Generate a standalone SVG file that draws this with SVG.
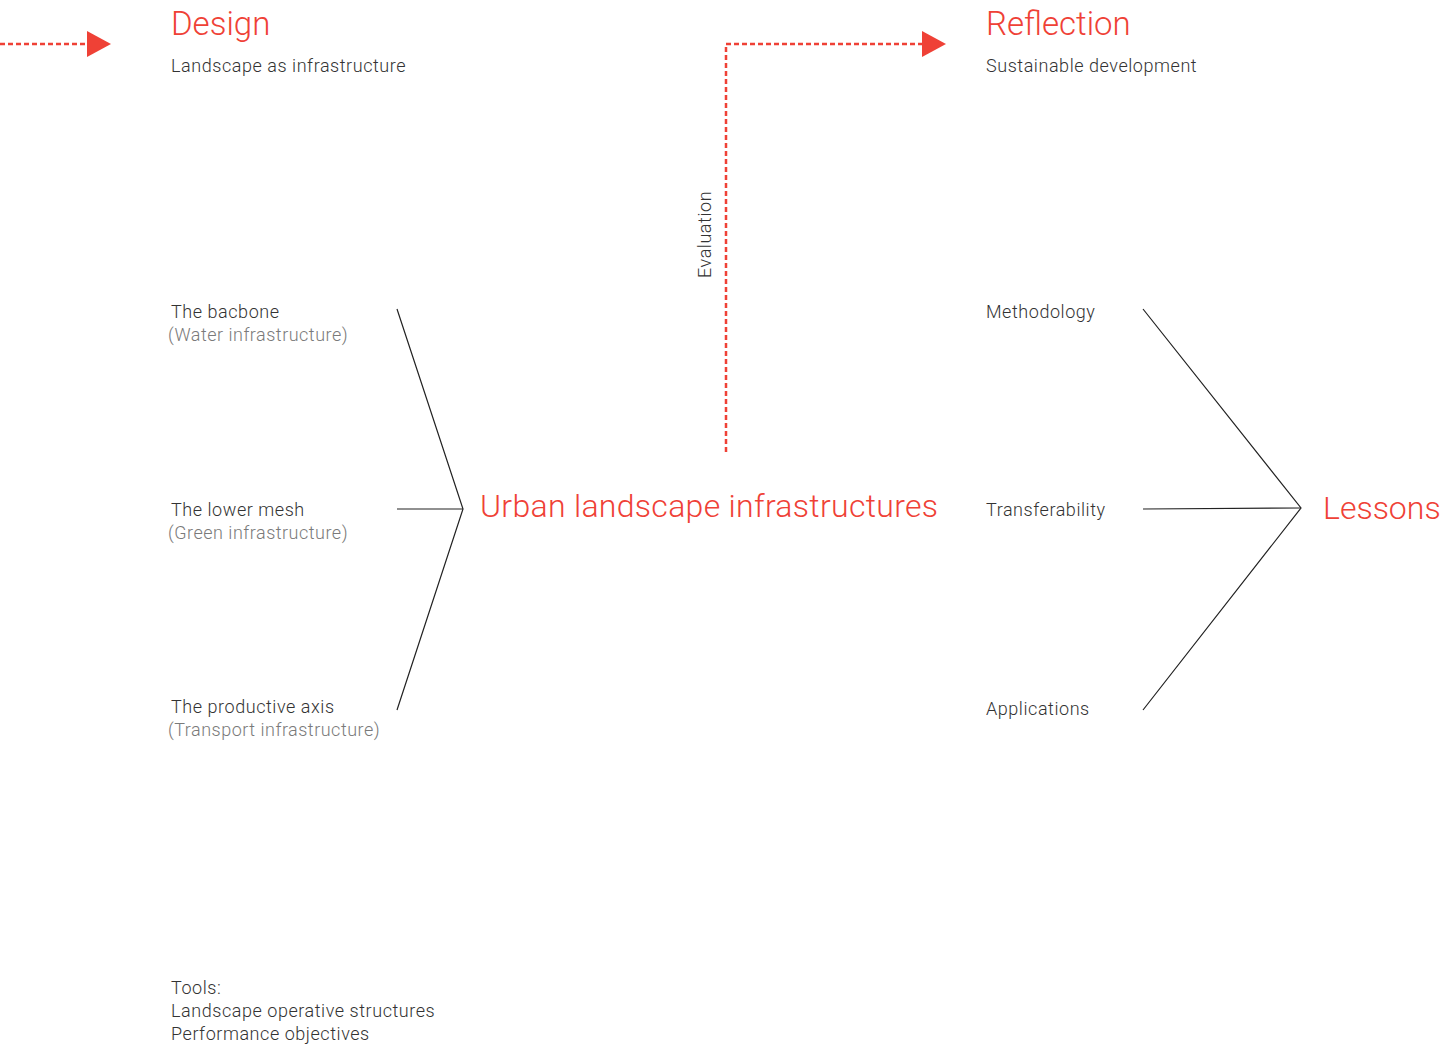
<svg xmlns="http://www.w3.org/2000/svg" width="1456" height="1046" viewBox="0 0 1456 1046">
  <style>
    text { font-family: Roboto, "Liberation Sans", sans-serif; font-weight: 300; }
    .head { fill: #ef4136; font-size: 33px; }
    .big { fill: #ef4136; font-size: 32px; letter-spacing: 0.3px; }
    .lbl { fill: #333333; font-size: 18px; letter-spacing: 0.55px; }
    .sub { fill: #7a7a7a; font-size: 18px; letter-spacing: 0.5px; }
    .link { stroke: #222222; stroke-width: 1.2; fill: none; }
    .flow { stroke: #ef4136; stroke-width: 2.5; stroke-dasharray: 5 3; fill: none; }
    .tip { fill: #ef4136; }
  </style>
  <rect width="1456" height="1046" fill="#ffffff"/>

  <g id="connectors">
    <!-- incoming flow into Design -->
    <line class="flow" x1="0" y1="44" x2="87" y2="44"/>
    <polygon class="tip" points="87,31 111,44 87,57"/>
    <!-- evaluation loop up to Reflection -->
    <polyline class="flow" points="726,452 726,44 922,44"/>
    <polygon class="tip" points="922,31 946,44 922,57"/>
    <!-- three design strands converging -->
    <polyline class="link" points="397,309 463,509 397,710"/>
    <line class="link" x1="397" y1="509" x2="463" y2="509"/>
    <!-- three reflection strands converging -->
    <polyline class="link" points="1143,309 1301,508 1143,710"/>
    <line class="link" x1="1143" y1="509" x2="1301" y2="508"/>
  </g>

  <g id="evaluation-label">
    <text class="lbl" transform="translate(711,278) rotate(-90)">Evaluation</text>
  </g>

  <g id="design">
    <text class="head" x="171" y="35">Design</text>
    <text class="lbl" x="171" y="72">Landscape as infrastructure</text>
  </g>

  <g id="reflection">
    <text class="head" x="986" y="35">Reflection</text>
    <text class="lbl" x="986" y="72">Sustainable development</text>
  </g>

  <g id="backbone">
    <text class="lbl" x="171" y="318">The bacbone</text>
    <text class="sub" x="168" y="341">(Water infrastructure)</text>
  </g>

  <g id="lower-mesh">
    <text class="lbl" x="171" y="516">The lower mesh</text>
    <text class="sub" x="168" y="539">(Green infrastructure)</text>
  </g>

  <g id="productive-axis">
    <text class="lbl" x="171" y="713">The productive axis</text>
    <text class="sub" x="168" y="736">(Transport infrastructure)</text>
  </g>

  <g id="urban-landscape">
    <text class="big" x="480" y="517">Urban landscape infrastructures</text>
  </g>

  <g id="methodology">
    <text class="lbl" x="986" y="318">Methodology</text>
  </g>

  <g id="transferability">
    <text class="lbl" x="986" y="516">Transferability</text>
  </g>

  <g id="applications">
    <text class="lbl" x="986" y="715">Applications</text>
  </g>

  <g id="lessons">
    <text class="big" x="1323" y="519" style="letter-spacing:0">Lessons</text>
  </g>

  <g id="tools">
    <text class="lbl" x="171" y="994">Tools:</text>
    <text class="lbl" x="171" y="1017">Landscape operative structures</text>
    <text class="lbl" x="171" y="1040">Performance objectives</text>
  </g>
</svg>
